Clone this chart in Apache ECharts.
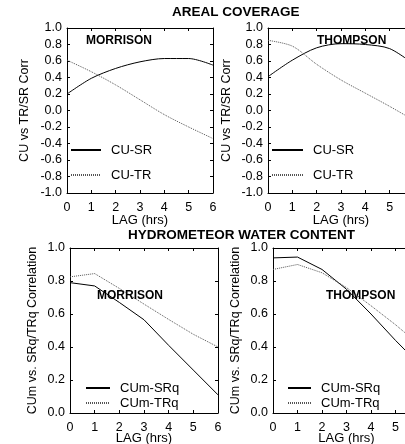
<!DOCTYPE html>
<html>
<head>
<meta charset="utf-8">
<script src="https://cdn.jsdelivr.net/npm/echarts@6/dist/echarts.min.js"></script>
<style>
	html, body { margin: 0; padding: 0; background: #fff; }
	#chart { width: 405px; height: 444px; }
</style>
</head>
<body>
<div id="chart"></div>
<script>
	// lag in hours
	var lags = [0, 1, 2, 3, 4, 5, 6];

	// areal coverage correlations
	var morrisonCuSr = [0.20, 0.39, 0.51, 0.59, 0.63, 0.63, 0.55];
	var morrisonCuTr = [0.61, 0.47, 0.31, 0.13, -0.05, -0.20, -0.34];
	var thompsonCuSr = [0.41, 0.61, 0.76, 0.81, 0.80, 0.75, 0.56];
	var thompsonCuTr = [0.85, 0.78, 0.56, 0.37, 0.21, 0.05, -0.12];

	// hydrometeor water content correlations
	var morrisonSrq = [0.79, 0.77, 0.67, 0.565, 0.41, 0.26, 0.11];
	var morrisonTrq = [0.825, 0.845, 0.755, 0.66, 0.567, 0.477, 0.40];
	var thompsonSrq = [0.94, 0.945, 0.87, 0.75, 0.60, 0.44, 0.29];
	var thompsonTrq = [0.87, 0.90, 0.85, 0.76, 0.65, 0.535, 0.41];

	var topNames = ['CU-SR', 'CU-TR'];
	var bottomNames = ['CUm-SRq', 'CUm-TRq'];

	var font = 'Liberation Sans';
	var grids = [
		{ left: 67, top: 28, width: 146, height: 165, outerBoundsMode: 'none' },
		{ left: 268, top: 28, width: 146, height: 165, outerBoundsMode: 'none' },
		{ left: 70, top: 248, width: 148, height: 165, outerBoundsMode: 'none' },
		{ left: 273, top: 248, width: 147, height: 165, outerBoundsMode: 'none' }
	];
	var yNames = ['CU vs TR/SR Corr', 'CU vs TR/SR Corr', 'CUm vs. SRq/TRq Correlation', 'CUm vs. SRq/TRq Correlation'];
	var yGaps = [36, 35, 31, 31];
	var xGaps = [21, 21, 19, 19];

	function pair(xs, ys) {
		return xs.map(function(x, i) { return [x, ys[i]]; });
	}

	var xAxes = [], yAxes = [];
	for (var p = 0; p < 4; p++) {
		var isTop = p < 2;
		var base = {
			gridIndex: p,
			type: 'value',
			nameMoveOverlap: false,
			axisLine: { show: true, onZero: false, lineStyle: { color: '#000', width: 1 } },
			axisTick: { show: true, inside: true, length: 3, lineStyle: { color: '#000' } },
			splitLine: { show: false }
		};
		xAxes.push(Object.assign({}, base, {
			position: 'bottom', min: 0, max: 6, interval: 1,
			name: 'LAG (hrs)', nameLocation: 'middle', nameGap: xGaps[p],
			nameTextStyle: { fontFamily: font, fontSize: 13, color: '#000' },
			axisLabel: { margin: 8, fontFamily: font, fontSize: 12.5, color: '#000' }
		}));
		xAxes.push(Object.assign({}, base, {
			position: 'top', min: 0, max: 6, interval: 1,
			axisLabel: { show: false }
		}));
		var ymin = isTop ? -1 : 0;
		yAxes.push(Object.assign({}, base, {
			position: 'left', min: ymin, max: 1, interval: 0.2,
			name: yNames[p], nameLocation: 'middle', nameGap: yGaps[p],
			nameTextStyle: { fontFamily: font, fontSize: 12.5, color: '#000' },
			axisLabel: {
				margin: 5, fontFamily: font, fontSize: 12.5, color: '#000',
				formatter: function(v) { return (Math.round(v * 10) / 10).toFixed(1); }
			}
		}));
		yAxes.push(Object.assign({}, base, {
			position: 'right', min: ymin, max: 1, interval: 0.2,
			axisLabel: { show: false }
		}));
	}

	var solid = { color: '#000', width: 1, type: 'solid' };
	var dotted = { color: '#555', width: 1, type: [1, 1] };

	function line(name, p, ys, style, smooth) {
		return {
			name: name, type: 'line', xAxisIndex: 2 * p, yAxisIndex: 2 * p,
			data: pair(lags, ys), symbol: 'none', showSymbol: false,
			smooth: smooth ? 0.3 : false,
			lineStyle: style, itemStyle: { color: style.color }, silent: true, animation: false
		};
	}

	var series = [
		line('CU-SR', 0, morrisonCuSr, solid, true),
		line('CU-TR', 0, morrisonCuTr, dotted, true),
		line('CU-SR', 1, thompsonCuSr, solid, true),
		line('CU-TR', 1, thompsonCuTr, dotted, true),
		line('CUm-SRq', 2, morrisonSrq, solid, false),
		line('CUm-TRq', 2, morrisonTrq, dotted, false),
		line('CUm-SRq', 3, thompsonSrq, solid, false),
		line('CUm-TRq', 3, thompsonTrq, dotted, false)
	];

	function legend(names, left, top, w, gap) {
		return {
			data: names, orient: 'vertical', left: left, top: top, padding: 0,
			itemWidth: w, itemHeight: 10, itemGap: gap, selectedMode: false,
			itemStyle: { opacity: 0 },
			textStyle: { fontFamily: font, fontSize: 13, color: '#000', lineHeight: 14, padding: [0, 0, 0, 5] }
		};
	}

	function label(text, left, top, size) {
		return {
			text: text, left: left, top: top, padding: 0,
			textStyle: { fontFamily: font, fontSize: size, fontWeight: 'bold', color: '#000' }
		};
	}

	var chart = echarts.init(document.getElementById('chart'), null, { renderer: 'canvas' });
	chart.setOption({
		animation: false,
		title: [
			label('AREAL COVERAGE', 172, 5, 13.5),
			label('HYDROMETEOR WATER CONTENT', 128, 228, 13.5),
			label('MORRISON', 86, 35, 12),
			label('THOMPSON', 317, 35, 12),
			label('MORRISON', 97, 290, 12),
			label('THOMPSON', 326, 290, 12)
		],
		legend: [
			legend(topNames, 70, 143, 30, 11),
			legend(topNames, 271, 143, 31, 11),
			legend(bottomNames, 85, 381, 24, 1),
			legend(bottomNames, 287, 381, 23, 1)
		],
		grid: grids,
		xAxis: xAxes,
		yAxis: yAxes,
		series: series
	});
</script>
</body>
</html>
